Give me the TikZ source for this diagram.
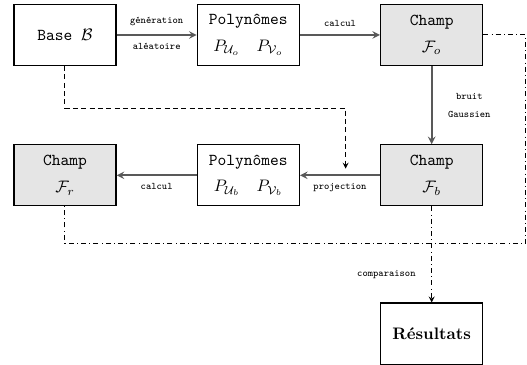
\documentclass[tikz,border=0pt]{standalone}
\usepackage{amssymb}
\usepackage{amsmath}
\usepackage{tikz}
\usetikzlibrary{arrows}
\usetikzlibrary{positioning}
\usetikzlibrary{calc}

\begin{document}
\begin{tikzpicture}[>=stealth,
  boite/.style={draw,thick,minimum width=61.2pt,minimum height=36.6pt,align=center,font=\ttfamily,inner sep=2pt},
  champ/.style={boite,fill=gray!20},
  fleche/.style={->,line width=1pt,black!65},
  etiq/.style={font=\ttfamily\fontsize{6}{7}\selectfont,text=black,align=center}]
  \useasboundingbox (-39pt,21pt) rectangle (277.2pt,-198pt);

  \node[boite] (base) at (0,0) {Base $\mathcal{B}$};
  \node[boite,right=48pt of base] (polyo) {Polynômes\\[4pt]$P_{\mathcal{U}_o}\quad P_{\mathcal{V}_o}$};
  \node[champ,right=48pt of polyo] (champo) {Champ\\[4pt]$\mathcal{F}_o$};

  \node[champ,below=46.8pt of champo] (champb) {Champ\\[4pt]$\mathcal{F}_b$};
  \node[boite,left=48pt of champb] (polyb) {Polynômes\\[4pt]$P_{\mathcal{U}_b}\quad P_{\mathcal{V}_b}$};
  \node[champ,left=48pt of polyb] (champr) {Champ\\[4pt]$\mathcal{F}_r$};

  \node[boite,font=\bfseries,below=57.6pt of champb] (res) {Résultats};

  \draw[fleche](base)--(polyo) node[midway,above=1.5pt,etiq]{génération} node[midway,below=1pt,etiq]{aléatoire};
  \draw[fleche](polyo)--(champo) node[midway,above=1pt,etiq]{calcul};
  \draw[fleche](champo)--(champb) node[midway,right=6pt,etiq]{bruit\\[4pt]Gaussien};
  \draw[fleche](champb)--(polyb) coordinate[pos=0.43](proj) node[midway,below=1pt,etiq]{projection};
  \draw[fleche](polyb)--(champr) node[midway,below=1pt,etiq]{calcul};

  \coordinate[below=22.2pt of champb.south] (bas);
  \coordinate (coin) at ($(bas)+(56.4pt,0)$);
  \draw[densely dashed,semithick,->,shorten >=4pt](base.south)--++(0,-25.2pt) -| (proj);
  \draw[dashdotted,semithick](champo.east) -| (coin) -| (champr.south);
  \draw[dashdotted,semithick,->](champb.south)--(res.north) node[pos=0.71,left=6pt,etiq]{comparaison};
\end{tikzpicture}
\end{document}
